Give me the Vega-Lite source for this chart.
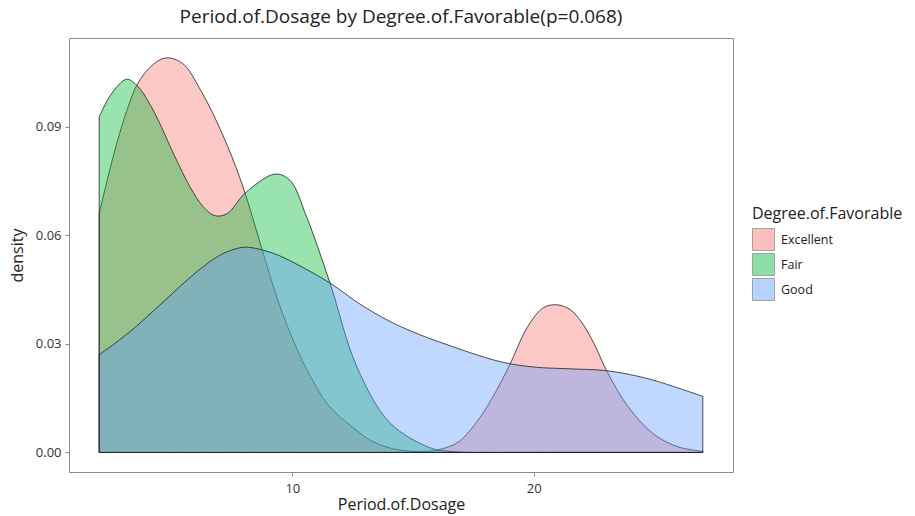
{
  "$schema": "https://vega.github.io/schema/vega-lite/v6.json",
  "width": 664,
  "height": 434,
  "autosize": {"type": "none"},
  "padding": {"left": 69, "top": 38, "right": 182, "bottom": 44},
  "background": "white",
  "config": {
    "font": "Open Sans",
    "view": {"stroke": "#8c8c8c", "strokeWidth": 1},
    "axis": {"grid": false, "domain": false, "tickColor": "#8c8c8c", "tickSize": 4, "labelColor": "#333333", "labelFontSize": 13, "titleColor": "#222222", "titleFontSize": 16, "titleFontWeight": "normal"}
  },
  "title": {"text": "Period.of.Dosage by Degree.of.Favorable(p=0.068)", "fontSize": 19, "fontWeight": "normal", "color": "#222222", "frame": "group", "anchor": "middle", "offset": 11},
  "data": {"values": [
    {"g": "Excellent", "x": 2.0, "d": 0.066},
    {"g": "Excellent", "x": 2.65, "d": 0.0835},
    {"g": "Excellent", "x": 3.2, "d": 0.0955},
    {"g": "Excellent", "x": 3.6, "d": 0.102},
    {"g": "Excellent", "x": 4.2, "d": 0.107},
    {"g": "Excellent", "x": 4.75, "d": 0.109},
    {"g": "Excellent", "x": 5.45, "d": 0.1075},
    {"g": "Excellent", "x": 6.25, "d": 0.0995},
    {"g": "Excellent", "x": 7.1, "d": 0.088},
    {"g": "Excellent", "x": 7.9, "d": 0.0745},
    {"g": "Excellent", "x": 8.75, "d": 0.056},
    {"g": "Excellent", "x": 9.4, "d": 0.042},
    {"g": "Excellent", "x": 10.1, "d": 0.030},
    {"g": "Excellent", "x": 10.75, "d": 0.021},
    {"g": "Excellent", "x": 11.5, "d": 0.013},
    {"g": "Excellent", "x": 12.4, "d": 0.0075},
    {"g": "Excellent", "x": 13.2, "d": 0.0035},
    {"g": "Excellent", "x": 14.0, "d": 0.0013},
    {"g": "Excellent", "x": 14.8, "d": 0.0004},
    {"g": "Excellent", "x": 15.6, "d": 0.0003},
    {"g": "Excellent", "x": 16.3, "d": 0.0012},
    {"g": "Excellent", "x": 16.9, "d": 0.003},
    {"g": "Excellent", "x": 17.7, "d": 0.009},
    {"g": "Excellent", "x": 18.4, "d": 0.0165},
    {"g": "Excellent", "x": 19.0, "d": 0.0242},
    {"g": "Excellent", "x": 19.75, "d": 0.0348},
    {"g": "Excellent", "x": 20.4, "d": 0.0400},
    {"g": "Excellent", "x": 20.95, "d": 0.0408},
    {"g": "Excellent", "x": 21.5, "d": 0.0395},
    {"g": "Excellent", "x": 22.0, "d": 0.0358},
    {"g": "Excellent", "x": 22.5, "d": 0.030},
    {"g": "Excellent", "x": 23.0, "d": 0.0228},
    {"g": "Excellent", "x": 23.9, "d": 0.0127},
    {"g": "Excellent", "x": 25.0, "d": 0.0049},
    {"g": "Excellent", "x": 26.0, "d": 0.0015},
    {"g": "Excellent", "x": 27.0, "d": 0.0003},
    {"g": "Fair", "x": 2.0, "d": 0.0927},
    {"g": "Fair", "x": 2.5, "d": 0.099},
    {"g": "Fair", "x": 3.14, "d": 0.1031},
    {"g": "Fair", "x": 3.62, "d": 0.101},
    {"g": "Fair", "x": 4.03, "d": 0.097},
    {"g": "Fair", "x": 4.38, "d": 0.0927},
    {"g": "Fair", "x": 5.14, "d": 0.0817},
    {"g": "Fair", "x": 5.76, "d": 0.0734},
    {"g": "Fair", "x": 6.31, "d": 0.0679},
    {"g": "Fair", "x": 6.8, "d": 0.0654},
    {"g": "Fair", "x": 7.3, "d": 0.066},
    {"g": "Fair", "x": 8.04, "d": 0.0716},
    {"g": "Fair", "x": 9.28, "d": 0.0769},
    {"g": "Fair", "x": 9.9, "d": 0.0752},
    {"g": "Fair", "x": 10.59, "d": 0.0651},
    {"g": "Fair", "x": 11.56, "d": 0.0468},
    {"g": "Fair", "x": 12.67, "d": 0.0237},
    {"g": "Fair", "x": 14.04, "d": 0.0082},
    {"g": "Fair", "x": 15.7, "d": 0.0013},
    {"g": "Fair", "x": 16.5, "d": 0.0003},
    {"g": "Fair", "x": 17.5, "d": 0.0},
    {"g": "Fair", "x": 19.0, "d": 0.0},
    {"g": "Fair", "x": 21.0, "d": 0.0},
    {"g": "Fair", "x": 24.0, "d": 0.0},
    {"g": "Fair", "x": 27.0, "d": 0.0},
    {"g": "Good", "x": 2.0, "d": 0.027},
    {"g": "Good", "x": 3.21, "d": 0.033},
    {"g": "Good", "x": 4.59, "d": 0.0412},
    {"g": "Good", "x": 5.97, "d": 0.0495},
    {"g": "Good", "x": 7.0, "d": 0.0545},
    {"g": "Good", "x": 7.63, "d": 0.0562},
    {"g": "Good", "x": 8.0, "d": 0.0567},
    {"g": "Good", "x": 8.46, "d": 0.0564},
    {"g": "Good", "x": 9.3, "d": 0.0548},
    {"g": "Good", "x": 10.1, "d": 0.0523},
    {"g": "Good", "x": 11.56, "d": 0.0468},
    {"g": "Good", "x": 12.8, "d": 0.0410},
    {"g": "Good", "x": 14.04, "d": 0.0362},
    {"g": "Good", "x": 15.0, "d": 0.0333},
    {"g": "Good", "x": 16.1, "d": 0.0305},
    {"g": "Good", "x": 18.6, "d": 0.0251},
    {"g": "Good", "x": 20.0, "d": 0.0236},
    {"g": "Good", "x": 21.5, "d": 0.0231},
    {"g": "Good", "x": 23.0, "d": 0.0226},
    {"g": "Good", "x": 24.6, "d": 0.0206},
    {"g": "Good", "x": 25.8, "d": 0.0182},
    {"g": "Good", "x": 27.0, "d": 0.0155}
  ]},
  "mark": {"type": "area", "interpolate": "catmull-rom", "fillOpacity": 0.4, "stroke": "#1a1a1a", "strokeWidth": 0.9, "strokeOpacity": 0.85},
  "encoding": {
    "x": {"field": "x", "type": "quantitative", "scale": {"domain": [0.75, 28.25], "nice": false, "zero": false}, "axis": {"values": [10, 20], "title": "Period.of.Dosage", "labelPadding": 6, "titlePadding": 1}},
    "y": {"field": "d", "type": "quantitative", "stack": null, "scale": {"domain": [-0.0054, 0.1145], "nice": false, "zero": false}, "axis": {"values": [0, 0.03, 0.06, 0.09], "format": ".2f", "title": "density", "labelPadding": 4, "titlePadding": 10}},
    "color": {"field": "g", "type": "nominal", "scale": {"domain": ["Excellent", "Fair", "Good"], "range": ["#F8766D", "#00BA38", "#619CFF"]},
      "legend": {"title": "Degree.of.Favorable", "orient": "none", "legendX": 683, "legendY": 168, "titleFontSize": 16, "titleFontWeight": "normal", "titleColor": "#222222", "titlePadding": 6, "labelFontSize": 12.5, "labelColor": "#222222", "labelOffset": 6, "symbolType": "square", "symbolSize": 484, "symbolStrokeColor": "#333333", "symbolStrokeWidth": 1, "symbolOpacity": 0.45, "rowPadding": -2, "padding": 0}}
  }
}
